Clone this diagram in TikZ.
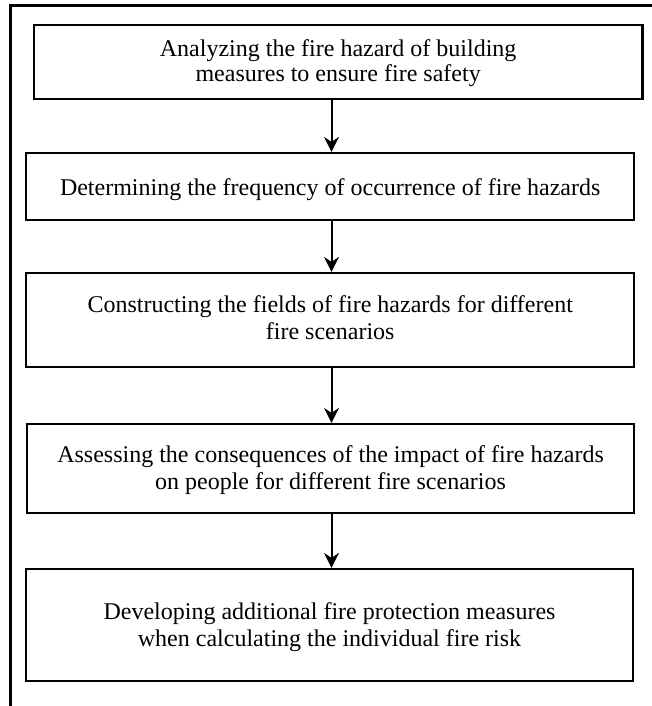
\documentclass[tikz,border=0pt]{standalone}
\usepackage{fontspec}
\setmainfont{Liberation Serif}
\usetikzlibrary{arrows.meta}
\begin{document}
\begin{tikzpicture}[x=1pt,y=-1pt,
  stagebox/.style={draw, line width=2.2pt, rectangle, inner sep=0pt},
  stagetext/.style={align=center, inner sep=0pt, font=\fontsize{24}{27}\selectfont},
  flowarrow/.style={line width=2pt, -{Stealth[length=15pt,width=15pt,inset=5pt]}},
]
\useasboundingbox (0,0) rectangle (652,706);

% frame lines along the top and left side
\coordinate (fbl) at (10.5,706);
\coordinate (ftl) at (10.5,5.3);
\coordinate (ftr) at (652,5.3);
\draw[line width=2.6pt] (fbl) -- (ftl) -- (ftr);

% stage boxes
\node[stagebox, minimum width=608.7pt, minimum height=73.4pt] (b1) at (338.15,62) {};
\node[stagebox, minimum width=608pt, minimum height=67pt] (b2) at (330.2,186.5) {};
\node[stagebox, minimum width=608pt, minimum height=93.7pt] (b3) at (330.2,319.85) {};
\node[stagebox, minimum width=606.5pt, minimum height=88.7pt] (b4) at (330.55,468.35) {};
\node[stagebox, minimum width=607pt, minimum height=111.7pt] (b5) at (329.5,624.85) {};

% stage texts
\node[stagetext, font=\fontsize{24}{25}\selectfont] (t1) at (338.15,64)
  {\strut Analyzing the fire hazard of building\\\strut measures to ensure fire safety};
\node[stagetext] (t2) at (330.2,189.6)
  {\strut Determining the frequency of occurrence of fire hazards};
\node[stagetext] (t3) at (330.2,320.6)
  {\strut Constructing the fields of fire hazards for different\\\strut fire scenarios};
\node[stagetext] (t4) at (330.55,470.6)
  {\strut Assessing the consequences of the impact of fire hazards\\\strut on people for different fire scenarios};
\node[stagetext] (t5) at (329.5,627.6)
  {\strut Developing additional fire protection measures\\\strut when calculating the individual fire risk};

% connectors
\coordinate (ax) at (331.5,0);
\draw[flowarrow] (b1.south -| ax) -- (b2.north -| ax);
\draw[flowarrow] (b2.south -| ax) -- (b3.north -| ax);
\draw[flowarrow] (b3.south -| ax) -- (b4.north -| ax);
\draw[flowarrow] (b4.south -| ax) -- (b5.north -| ax);
\end{tikzpicture}
\end{document}
